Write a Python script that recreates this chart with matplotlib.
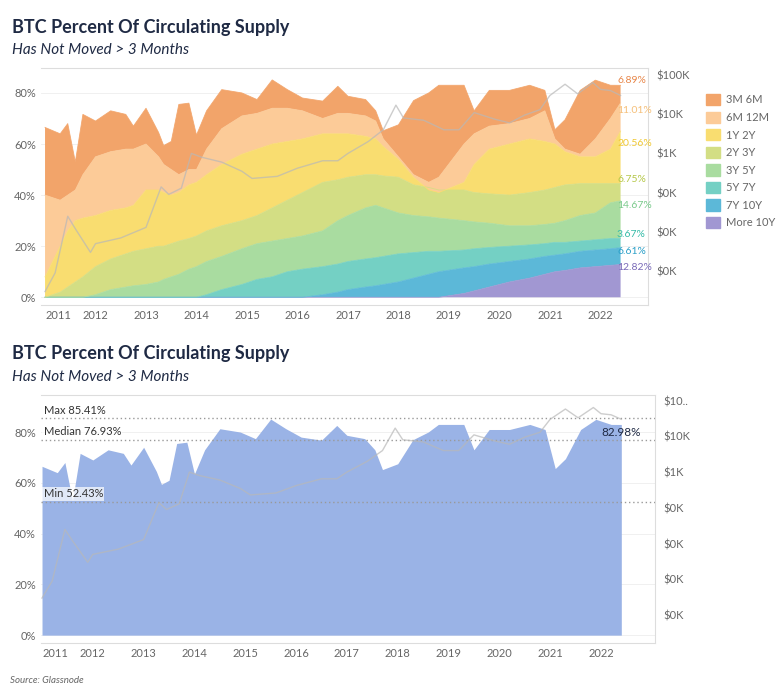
import numpy as np
import matplotlib.pyplot as plt

# sample dates (fractional years)
T = [2011.0, 2011.3, 2011.45, 2011.6, 2011.75, 2012.0, 2012.3, 2012.6, 2012.75, 2013.0,
     2013.25, 2013.35, 2013.5, 2013.65, 2013.85, 2014.0, 2014.2, 2014.5, 2014.9, 2015.2,
     2015.5, 2015.8, 2016.1, 2016.5, 2016.8, 2017.0, 2017.35, 2017.55, 2017.7, 2018.0,
     2018.3, 2018.6, 2018.8, 2019.3, 2019.5, 2019.8, 2020.2, 2020.6, 2020.9, 2021.1,
     2021.3, 2021.6, 2021.9, 2022.2, 2022.4]

# cumulative tops of each cohort band (% of supply)
top_more10y = [0]*33 + [1.5, 2.5, 4, 6, 7.5, 9, 10, 10.5, 11.5, 12, 12.5, 12.82]
top_7y10y = [0]*23 + [1, 2, 3, 4, 4.5, 5, 6, 7.5, 9, 10, 11.5, 12, 13, 14, 15, 16, 16.5,
                      17, 18, 18.5, 19, 19.43]
top_5y7y = [0]*16 + [1, 3, 5, 7, 8, 10, 11, 12, 13, 14, 15, 15.5, 16, 17, 17.5, 18, 18,
                     18.5, 19, 19.5, 20, 20.5, 21, 21.5, 21.5, 22, 22.5, 23, 23.10]
top_3y5y = [0, 0, 0, 0, 0, 1, 3, 4, 4.5, 5, 6, 7, 8, 9, 11, 12, 14, 16, 19, 21, 22, 23, 24,
            26, 30, 32, 35, 36, 35, 33, 32, 31.5, 31, 30, 29.5, 29, 28, 28, 28.5, 29, 30,
            32, 33, 37, 37.77]
top_2y3y = [0, 2, 4, 6, 8, 12, 15, 17, 18, 19, 20, 20, 21, 22, 23, 24, 26, 28, 30, 32, 35,
            38, 41, 45, 46, 47, 48, 48, 47.5, 47, 44, 43, 42, 42, 41, 40.5, 40, 41, 42, 43,
            44, 44.5, 44.5, 44.5, 44.52]
top_1y2y = [8, 20, 26, 30, 31, 32, 34, 35, 36, 42, 42, 41, 40, 41, 44, 45, 48, 52, 56, 58,
            60, 61, 62, 64, 64, 64, 63, 62, 59, 54, 47, 42, 41, 45, 52, 58, 60, 62, 61, 60,
            57, 55, 55, 58, 65.08]
top_6m12m = [40, 38, 40, 42, 48, 55, 57, 58, 58, 60, 55, 52, 50, 48, 50, 50, 58, 66, 71, 72,
             74, 74, 73, 70, 72, 72, 71, 69, 62, 55, 48, 45, 47, 60, 64, 67, 68, 70, 73, 62,
             58, 56, 62, 70, 76.09]
total = [66.5, 64, 68, 53, 71.6, 69, 73, 71.6, 67, 74, 64.5, 59.4, 61, 75.5, 76, 63.5, 73,
         81.3, 80, 77.4, 85.1, 81.3, 78, 76.8, 82.6, 78.7, 77.4, 73, 65.2, 67.5, 77, 80, 83,
         83, 73, 81, 81, 83, 81, 65.6, 69.5, 81, 85, 83, 82.98]

cohorts = ['3M 6M', '6M 12M', '1Y 2Y', '2Y 3Y', '3Y 5Y', '5Y 7Y', '7Y 10Y', 'More 10Y']
end_labels = ['6.89%', '11.01%', '20.56%', '6.75%', '14.67%', '3.67%', '6.61%', '12.82%']

# BTC price (USD)
PT = [2011.0, 2011.2, 2011.45, 2011.6, 2011.9, 2012.0, 2012.5, 2013.0, 2013.3, 2013.45,
      2013.7, 2013.9, 2014.1, 2014.5, 2014.9, 2015.1, 2015.6, 2016.0, 2016.5, 2016.8,
      2017.0, 2017.4, 2017.7, 2017.95, 2018.1, 2018.5, 2018.9, 2019.2, 2019.5, 2019.9,
      2020.2, 2020.5, 2020.8, 2021.0, 2021.3, 2021.55, 2021.85, 2022.0, 2022.2, 2022.4]
price = [0.3, 0.9, 25, 12, 3, 5, 7, 13, 140, 90, 130, 1000, 800, 600, 350, 230, 260, 420,
         650, 650, 1000, 2000, 4000, 17000, 8000, 7000, 4000, 4000, 11000, 7500, 6000, 9500,
         13000, 30000, 58000, 33000, 64000, 43000, 40000, 30000]

years = list(range(2011, 2023))
colors = ['#f2a46a', '#fccb98', '#f9dd70', '#d3de84', '#a9dca0', '#74d0c4', '#5cb8d8', '#a197d2']
label_colors = ['#e8874a', '#f5bf78', '#f0c832', '#b5c748', '#78c98a', '#35bba8', '#2a9fc8', '#7a6ab8']
navy = '#1f2a44'
grey_txt = '#666666'

fig = plt.figure(figsize=(7.78, 7.0), dpi=100)
plt.rcParams['font.family'] = 'Lato'


def style_axes(ax, axp):
    ax.spines['left'].set_visible(False)
    for s in ['top', 'right', 'bottom']:
        ax.spines[s].set_color('#dddddd')
    for s in axp.spines.values():
        s.set_visible(False)
    ax.tick_params(length=0, labelsize=8, colors=grey_txt)
    axp.tick_params(length=0, labelsize=8, colors=grey_txt, pad=6)
    ax.set_xticks(years)
    ax.set_xticklabels([str(y) for y in years])
    ax.get_xticklabels()[0].set_horizontalalignment('left')
    ax.set_yticks([0, 20, 40, 60, 80])
    ax.set_yticklabels(['0%', '20%', '40%', '60%', '80%'])
    ax.grid(axis='y', color='#eeeeee', lw=0.6)
    ax.set_axisbelow(True)


# ---- top chart: stacked cohorts
ax1 = fig.add_axes([0.0527, 0.564, 0.780, 0.339])
tops = [total, top_6m12m, top_1y2y, top_2y3y, top_3y5y, top_5y7y, top_7y10y, top_more10y]
bounds = np.array(tops[::-1])  # bottom-up
bands = np.diff(np.vstack([np.zeros(len(T)), bounds]), axis=0)
ax1.stackplot(T, bands, colors=colors[::-1], lw=0)
for b, c in zip(bounds, colors[::-1]):
    ax1.plot(T, b, color=c, lw=0.6, alpha=0.9)
ax1.set_xlim(2010.92, 2022.94)
ax1.set_ylim(-3.1, 89.8)
ax1p = ax1.twinx()
ax1p.plot(PT, price, color='#b8b8b8', lw=1, alpha=0.7)
ax1p.set_yscale('log')
ax1p.set_ylim(10**-0.87, 10**5.18)
ax1p.set_yticks([1, 10, 100, 1e3, 1e4, 1e5])
ax1p.set_yticklabels(['$0K', '$0K', '$0K', '$1K', '$10K', '$100K'])
ax1p.minorticks_off()
style_axes(ax1, ax1p)
ly = [82.98 + 2, 76.09 - 3, 65.08 - 5, 44.52 + 1.5, 37.77 - 2, 23.10 + 1.5, 19.43 - 1.5, 12.82 - 1]
for lab, y, c in zip(end_labels, ly, label_colors):
    ax1.text(2022.33, y, lab, color=c, fontsize=7.5, va='center')

handles = [plt.Rectangle((0, 0), 1, 1, color=c) for c in colors]
fig.legend(handles, cohorts, loc='upper left', bbox_to_anchor=(0.895, 0.88), frameon=False,
           fontsize=8, handlelength=1.2, handleheight=1.2, labelspacing=0.55,
           handletextpad=0.6, labelcolor=grey_txt)

# ---- bottom chart: total
ax2 = fig.add_axes([0.0527, 0.0814, 0.789, 0.354])
ax2.fill_between(T, total, color='#9ab3e6', lw=0)
ax2.set_xlim(2010.98, 2023.06)
ax2.set_ylim(-3.1, 94.5)
ax2p = ax2.twinx()
ax2p.plot(PT, price, color='#b8b8b8', lw=1, alpha=0.7)
ax2p.set_yscale('log')
ax2p.set_ylim(10**-1.78, 10**5.15)
ax2p.set_yticks([0.1, 1, 10, 100, 1e3, 1e4, 1e5])
ax2p.set_yticklabels(['$0K', '$0K', '$0K', '$0K', '$1K', '$10K', '$10..'])
ax2p.minorticks_off()
style_axes(ax2, ax2p)
ref = [('Max', 85.41), ('Median', 76.93), ('Min', 52.43)]
for name, v in ref:
    ax2.axhline(v, color='#999999', lw=1, ls=(0, (1, 2)))
    ax2.text(2011.03, v + 1.0, f'{name} {v:.2f}%', fontsize=8, color='#333333', va='bottom',
             bbox=dict(facecolor='white', edgecolor='none', alpha=0.7, pad=1))
ax2.text(2022.0, 82.98 - 1, '82.98%', fontsize=8.5, color=navy, va='top')

# titles
for y0, y1 in [(0.96, 0.928), (0.495, 0.462)]:
    fig.text(0.015, y0, 'BTC Percent Of Circulating Supply', fontsize=13, fontweight='bold',
             color=navy, va='center')
    fig.text(0.015, y1, 'Has Not Moved > 3 Months', fontsize=11, style='italic',
             color=navy, va='center')
fig.text(0.013, 0.024, 'Source: Glassnode', fontsize=7, style='italic', color=grey_txt)

fig.savefig('out.png', dpi=100)
